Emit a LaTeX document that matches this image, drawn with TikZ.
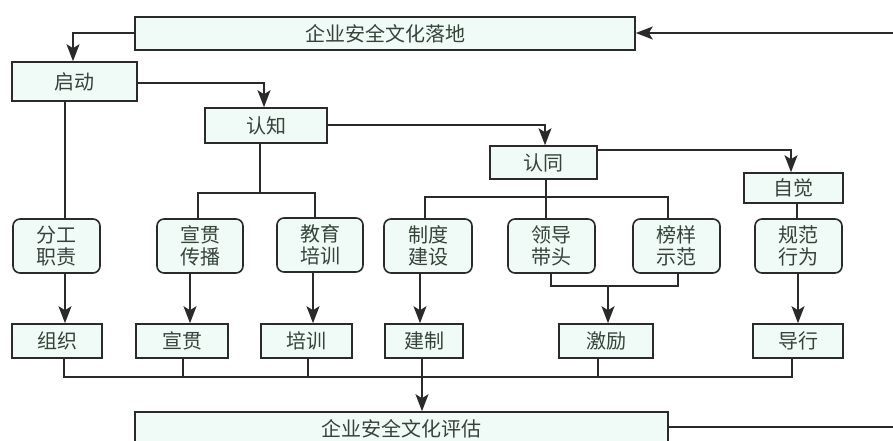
\documentclass[tikz,border=0pt]{standalone}
\usepackage{fontspec}
\newfontfamily\cjk{Noto Sans CJK SC}
\usetikzlibrary{arrows.meta}
\definecolor{txt}{HTML}{34443B}
\definecolor{boxfill}{HTML}{F0FAF6}
\definecolor{ln}{HTML}{2A2A2A}
\tikzset{
  box/.style={draw=ln, line width=1.6pt, fill=boxfill, inner sep=0pt, text=txt,
    font=\cjk\fontsize{20pt}{22pt}\selectfont, align=center},
  rbox/.style={box, rounded corners=7pt},
  conn/.style={draw=ln, line width=1.5pt},
  arr/.style={conn, -{Stealth[length=17pt,width=13pt,inset=4pt]}},
}
\begin{document}
\begin{tikzpicture}[x=1pt,y=-1pt]
\useasboundingbox (0,0) rectangle (893,441);
% top and bottom
\node[box, minimum width=500pt, minimum height=33pt] (top) at (385,33.5) {企业安全文化落地};
\node[box, minimum width=533pt, minimum height=34pt] (bottom) at (401.5,429) {企业安全文化评估};
% stage boxes
\node[box, minimum width=125pt, minimum height=39pt] (qidong) at (74.5,81.5) {启动};
\node[box, minimum width=122pt, minimum height=35pt] (renzhi) at (266,125.5) {认知};
\node[box, minimum width=107pt, minimum height=33pt] (rentong) at (543.5,162.5) {认同};
\node[box, minimum width=99pt, minimum height=30pt] (zijue) at (793.5,188) {自觉};
% rounded middle row
\node[rbox, minimum width=87pt, minimum height=54pt] (fengong) at (56.5,246) {分工\\职责};
\node[rbox, minimum width=86pt, minimum height=54pt] (xgcb) at (200,246) {宣贯\\传播};
\node[rbox, minimum width=86pt, minimum height=54pt] (jypx) at (320,245) {教育\\培训};
\node[rbox, minimum width=88pt, minimum height=54pt] (zdjs) at (428,246) {制度\\建设};
\node[rbox, minimum width=87pt, minimum height=54pt] (ldtt) at (551.5,246) {领导\\带头};
\node[rbox, minimum width=87pt, minimum height=54pt] (bysf) at (676.5,246) {榜样\\示范};
\node[rbox, minimum width=87pt, minimum height=54pt] (gfxw) at (798.5,246) {规范\\行为};
% bottom row
\node[box, minimum width=90pt, minimum height=34pt] (zuzhi) at (57,341) {组织};
\node[box, minimum width=92pt, minimum height=34pt] (xuanguan) at (182,341) {宣贯};
\node[box, minimum width=91pt, minimum height=34pt] (peixun) at (306.5,341) {培训};
\node[box, minimum width=78pt, minimum height=34pt] (jianzhi) at (424,341) {建制};
\node[box, minimum width=94pt, minimum height=34pt] (jili) at (606,341) {激励};
\node[box, minimum width=90pt, minimum height=34pt] (daoxing) at (798,341) {导行};
% coordinates
\coordinate (rin) at (893,33);
\coordinate (rout) at (893,427);
\coordinate (sA) at (260,193);
\coordinate (sB) at (546,197);
\coordinate (jA) at (608,286);
\coordinate (bus) at (422,377);
% feedback
\draw[arr] (rin) -- (top.east |- rin);
\draw[conn] (bottom.east |- rout) -- (rout);
% top flow
\draw[arr] (top.west |- 0,33) -| (qidong.north -| 73,0);
\draw[arr] (qidong.east |- 0,83) -| (renzhi.north -| 264,0);
\draw[arr] (renzhi.east |- 0,125) -| (rentong.north -| 545,0);
\draw[arr] (rentong.east |- 0,150) -| (zijue.north -| 791,0);
% qidong
\draw[conn] (qidong.south -| 65,0) -- (fengong.north -| 65,0);
% renzhi split
\draw[conn] (renzhi.south -| sA) -- (sA);
\draw[conn] (xgcb.north -| 198,0) |- (sA) -| (jypx.north -| 315,0);
% rentong split
\draw[conn] (rentong.south -| sB) -- (ldtt.north -| sB);
\draw[conn] (zdjs.north -| 425,0) |- (sB) -| (bysf.north -| 668,0);
% zijue
\draw[conn] (zijue.south -| 797,0) -- (gfxw.north -| 797,0);
% down arrows
\draw[arr] (fengong.south -| 65,0) -- (zuzhi.north -| 65,0);
\draw[arr] (xgcb.south -| 190,0) -- (xuanguan.north -| 190,0);
\draw[arr] (jypx.south -| 313,0) -- (peixun.north -| 313,0);
\draw[arr] (zdjs.south -| 420,0) -- (jianzhi.north -| 420,0);
\draw[conn] (ldtt.south -| 551,0) |- (jA) -| (bysf.south -| 678,0);
\draw[arr] (jA) -- (jili.north -| jA);
\draw[arr] (gfxw.south -| 798,0) -- (daoxing.north -| 798,0);
% bottom bus
\draw[conn] (zuzhi.south -| 64,0) |- (bus) -| (daoxing.south -| 792,0);
\draw[conn] (xuanguan.south -| 183,0) -- (183,377);
\draw[conn] (peixun.south -| 308,0) -- (308,377);
\draw[conn] (jianzhi.south -| bus) -- (bus);
\draw[conn] (jili.south -| 598,0) -- (598,377);
\draw[arr] (bus) -- (bottom.north -| bus);
\end{tikzpicture}
\end{document}
